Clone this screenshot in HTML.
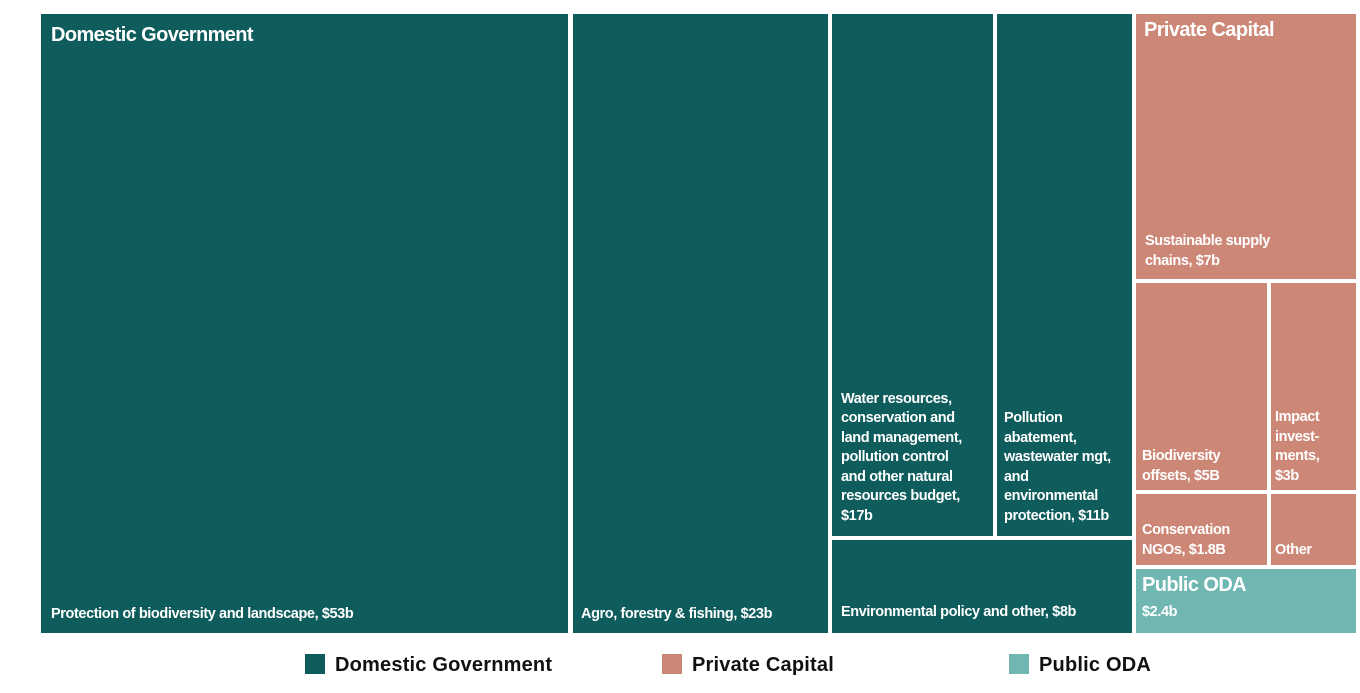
<!DOCTYPE html>
<html><head><style>
body{margin:0;width:1360px;height:693px;background:#fff;position:relative;font-family:"Liberation Sans",sans-serif;overflow:hidden}
.r{position:absolute;color:#fff;font-weight:bold;font-size:14.5px;line-height:19.5px;box-sizing:border-box;letter-spacing:-0.4px}
.d{background:#0f5c5c}.p{background:#cd8777}.o{background:#70b6b1}
.t{position:absolute;left:10px}
.h{font-size:20px;letter-spacing:-0.6px}
.lg{position:absolute;top:654px;font-weight:bold;font-size:20px;color:#111;letter-spacing:0.2px}
.lg span{display:inline-block;width:20px;height:20px;vertical-align:-3px;margin-right:10px}
</style></head><body>
<div class="r d" style="left:41px;top:14px;width:527px;height:619px"><div class="t h" style="top:12px">Domestic Government</div><div class="t" style="bottom:9px">Protection of biodiversity and landscape, $53b</div></div>
<div class="r d" style="left:573px;top:14px;width:255px;height:619px"><div class="t" style="left:8px;bottom:9px">Agro, forestry &amp; fishing, $23b</div></div>
<div class="r d" style="left:832px;top:14px;width:161px;height:522px"><div class="t" style="left:9px;bottom:10px;width:135px">Water resources, conservation and land management, pollution control and other natural resources budget, $17b</div></div>
<div class="r d" style="left:997px;top:14px;width:135px;height:522px"><div class="t" style="left:7px;bottom:10px;width:112px">Pollution abatement, wastewater mgt, and environmental protection, $11b</div></div>
<div class="r d" style="left:832px;top:540px;width:300px;height:93px"><div class="t" style="left:9px;bottom:11px">Environmental policy and other, $8b</div></div>
<div class="r p" style="left:1136px;top:14px;width:220px;height:265px"><div class="t h" style="left:8px;top:7px">Private Capital</div><div class="t" style="left:9px;bottom:8px;width:150px">Sustainable supply chains, $7b</div></div>
<div class="r p" style="left:1136px;top:283px;width:131px;height:207px"><div class="t" style="left:6px;bottom:4px;width:95px">Biodiversity offsets, $5B</div></div>
<div class="r p" style="left:1271px;top:283px;width:85px;height:207px"><div class="t" style="left:4px;bottom:4px;width:60px">Impact invest-ments, $3b</div></div>
<div class="r p" style="left:1136px;top:494px;width:131px;height:71px"><div class="t" style="left:6px;bottom:5px">Conservation NGOs, $1.8B</div></div>
<div class="r p" style="left:1271px;top:494px;width:85px;height:71px"><div class="t" style="left:4px;bottom:5px">Other</div></div>
<div class="r o" style="left:1136px;top:569px;width:220px;height:64px"><div class="t h" style="left:6px;top:7px">Public ODA</div><div class="t" style="left:6px;top:34px">$2.4b</div></div>
<div class="lg" style="left:305px"><span style="background:#0f5c5c"></span>Domestic Government</div>
<div class="lg" style="left:662px"><span style="background:#cd8777"></span>Private Capital</div>
<div class="lg" style="left:1009px"><span style="background:#70b6b1"></span>Public ODA</div>
</body></html>
